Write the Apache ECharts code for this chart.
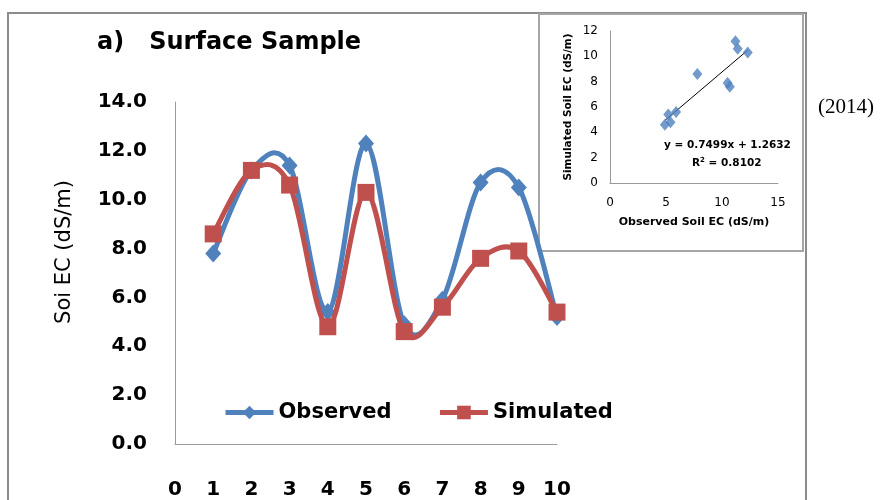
<!DOCTYPE html>
<html>
<head>
<meta charset="utf-8">
<script src="https://cdn.jsdelivr.net/npm/echarts@6/dist/echarts.min.js"></script>
<style>
  html, body { margin: 0; padding: 0; background: #fff; }
  #chart { width: 882px; height: 500px; }
</style>
</head>
<body>
<div id="chart"></div>
<script>
// Sample positions along the profile and soil EC values (dS/m)
const samples = [1, 2, 3, 4, 5, 6, 7, 8, 9, 10];
const observed = [7.8, 11.2, 11.4, 5.4, 12.3, 4.9, 5.9, 10.7, 10.5, 5.2];
const simulated = [8.6, 11.2, 10.6, 4.8, 10.3, 4.6, 5.6, 7.6, 7.9, 5.4];

// Linear fit of simulated vs observed, as reported on the inset
const fitSlope = 0.7499;
const fitIntercept = 1.2632;
const fitR2 = 0.8102;

const BLUE = '#4F81BD';
const RED = '#C0504D';
const FONT = '"DejaVu Sans", sans-serif';

const mainObs = samples.map((s, i) => [s, observed[i]]);
const mainSim = samples.map((s, i) => [s, simulated[i]]);
const scatterPts = observed.map((o, i) => [o, simulated[i]]);
const xLo = Math.min(...observed), xHi = Math.max(...observed);
const fitLine = [[xLo, fitSlope * xLo + fitIntercept], [xHi, fitSlope * xHi + fitIntercept]];

// Smoothed connector: each item draws a cubic Bezier to the next point,
// with Catmull-Rom style control points taken from its neighbours.
function smoothCurve(name, values, color, z) {
  const n = samples.length;
  return {
    name: name, type: 'custom', xAxisIndex: 0, yAxisIndex: 0, z: z, silent: true,
    data: samples.map((s, i) => [s, values[i]]),
    renderItem: function (params, api) {
      const i = params.dataIndex;
      if (i >= n - 1) return null;
      const pt = k => {
        const j = Math.max(0, Math.min(n - 1, k));
        return api.coord([samples[j], values[j]]);
      };
      const p0 = pt(i - 1), p1 = pt(i), p2 = pt(i + 1), p3 = pt(i + 2);
      return {
        type: 'bezierCurve',
        shape: {
          x1: p1[0], y1: p1[1], x2: p2[0], y2: p2[1],
          cpx1: p1[0] + (p2[0] - p0[0]) / 6, cpy1: p1[1] + (p2[1] - p0[1]) / 6,
          cpx2: p2[0] - (p3[0] - p1[0]) / 6, cpy2: p2[1] - (p3[1] - p1[1]) / 6
        },
        style: { stroke: color, lineWidth: 5, fill: null, lineCap: 'round' }
      };
    }
  };
}

const chart = echarts.init(document.getElementById('chart'), null, { renderer: 'canvas' });

chart.setOption({
  animation: false,
  backgroundColor: '#fff',
  textStyle: { fontFamily: FONT },
  title: {
    text: 'a)   Surface Sample',
    left: 92, top: 26,
    textStyle: { fontFamily: FONT, fontSize: 24, fontWeight: 'bold', color: '#000' }
  },
  graphic: [
    { type: 'rect', z: -10, shape: { x: 8, y: 13, width: 798, height: 520 },
      style: { fill: 'none', stroke: '#8c8c8c', lineWidth: 2 } },
    { type: 'rect', z: -5, shape: { x: 539, y: 14, width: 264, height: 237 },
      style: { fill: '#fff', stroke: '#a6a6a6', lineWidth: 2 } },
    { type: 'text', left: 818, top: 97, z: 5,
      style: { text: '(2014)', font: '21px "Liberation Serif", serif', fill: '#000' } },
    { type: 'text', left: 664, top: 140, z: 5,
      style: { text: 'y = ' + fitSlope + 'x + ' + fitIntercept, font: 'bold 10.5px ' + FONT, fill: '#000' } },
    { type: 'text', left: 692, top: 157, z: 5,
      style: { rich: { s: { fontSize: 7, fontWeight: 'bold', fontFamily: FONT, verticalAlign: 'top', padding: [0, 0, 5, 0] } },
        text: 'R{s|2} = ' + fitR2, font: 'bold 10.5px ' + FONT, fill: '#000' } }
  ],
  legend: {
    left: 218, top: 397,
    itemWidth: 48, itemHeight: 17, itemGap: 46,
    textStyle: { fontFamily: FONT, fontSize: 21, fontWeight: 'bold', color: '#000' },
    lineStyle: { width: 5, opacity: 1 },
    data: ['Observed', 'Simulated']
  },
  grid: [
    { left: 175, top: 102, right: 325, bottom: 55 },
    { left: 610, top: 31, right: 104, bottom: 317 }
  ],
  xAxis: [
    {
      type: 'value', gridIndex: 0, min: 0, max: 10, interval: 1,
      axisLine: { lineStyle: { color: '#9a9a9a', width: 1 } },
      axisTick: { show: false }, splitLine: { show: false },
      axisLabel: { margin: 36, fontSize: 20, fontWeight: 'bold', color: '#000', fontFamily: FONT }
    },
    {
      type: 'value', gridIndex: 1, min: 0, max: 15, interval: 5,
      name: 'Observed Soil EC (dS/m)', nameLocation: 'middle', nameGap: 34,
      nameTextStyle: { fontSize: 11, fontWeight: 'bold', color: '#000', fontFamily: FONT },
      axisLine: { lineStyle: { color: '#9a9a9a', width: 1 } },
      axisTick: { show: false }, splitLine: { show: false },
      axisLabel: { margin: 14, fontSize: 12, color: '#000', fontFamily: FONT }
    }
  ],
  yAxis: [
    {
      type: 'value', gridIndex: 0, min: 0, max: 14, interval: 2,
      name: 'Soi EC (dS/m)', nameLocation: 'middle', nameGap: 100, nameRotate: 90,
      nameTextStyle: { fontSize: 21, color: '#000', fontFamily: FONT, padding: [0, 0, 0, 42] },
      axisLine: { show: true, lineStyle: { color: '#9a9a9a', width: 1 } },
      axisTick: { show: false }, splitLine: { show: false },
      axisLabel: { margin: 28, fontSize: 20, fontWeight: 'bold', color: '#000', fontFamily: FONT,
        formatter: v => v.toFixed(1) }
    },
    {
      type: 'value', gridIndex: 1, min: 0, max: 12, interval: 2,
      name: 'Simulated Soil EC (dS/m)', nameLocation: 'middle', nameGap: 36, nameRotate: 90,
      nameTextStyle: { fontSize: 10.5, fontWeight: 'bold', color: '#000', fontFamily: FONT },
      axisLine: { show: true, lineStyle: { color: '#9a9a9a', width: 1 } },
      axisTick: { show: false }, splitLine: { show: false },
      axisLabel: { margin: 12, fontSize: 12, color: '#000', fontFamily: FONT }
    }
  ],
  series: [
    smoothCurve('Observed curve', observed, BLUE, 2),
    {
      name: 'Observed', type: 'line', xAxisIndex: 0, yAxisIndex: 0,
      data: mainObs, z: 3,
      symbol: 'diamond', symbolSize: [16, 18],
      lineStyle: { color: BLUE, width: 5, opacity: 0 },
      itemStyle: { color: BLUE }
    },
    smoothCurve('Simulated curve', simulated, RED, 4),
    {
      name: 'Simulated', type: 'line', xAxisIndex: 0, yAxisIndex: 0,
      data: mainSim, z: 5,
      symbol: 'rect', symbolSize: 17,
      lineStyle: { color: RED, width: 5, opacity: 0 },
      itemStyle: { color: RED }
    },
    {
      name: 'fit', type: 'line', xAxisIndex: 1, yAxisIndex: 1,
      data: fitLine, symbol: 'none', z: 4,
      lineStyle: { color: '#000', width: 1 }
    },
    {
      name: 'pairs', type: 'scatter', xAxisIndex: 1, yAxisIndex: 1,
      data: scatterPts, symbol: 'diamond', symbolSize: [10, 12], z: 5,
      itemStyle: { color: BLUE }
    }
  ]
});
</script>
</body>
</html>
